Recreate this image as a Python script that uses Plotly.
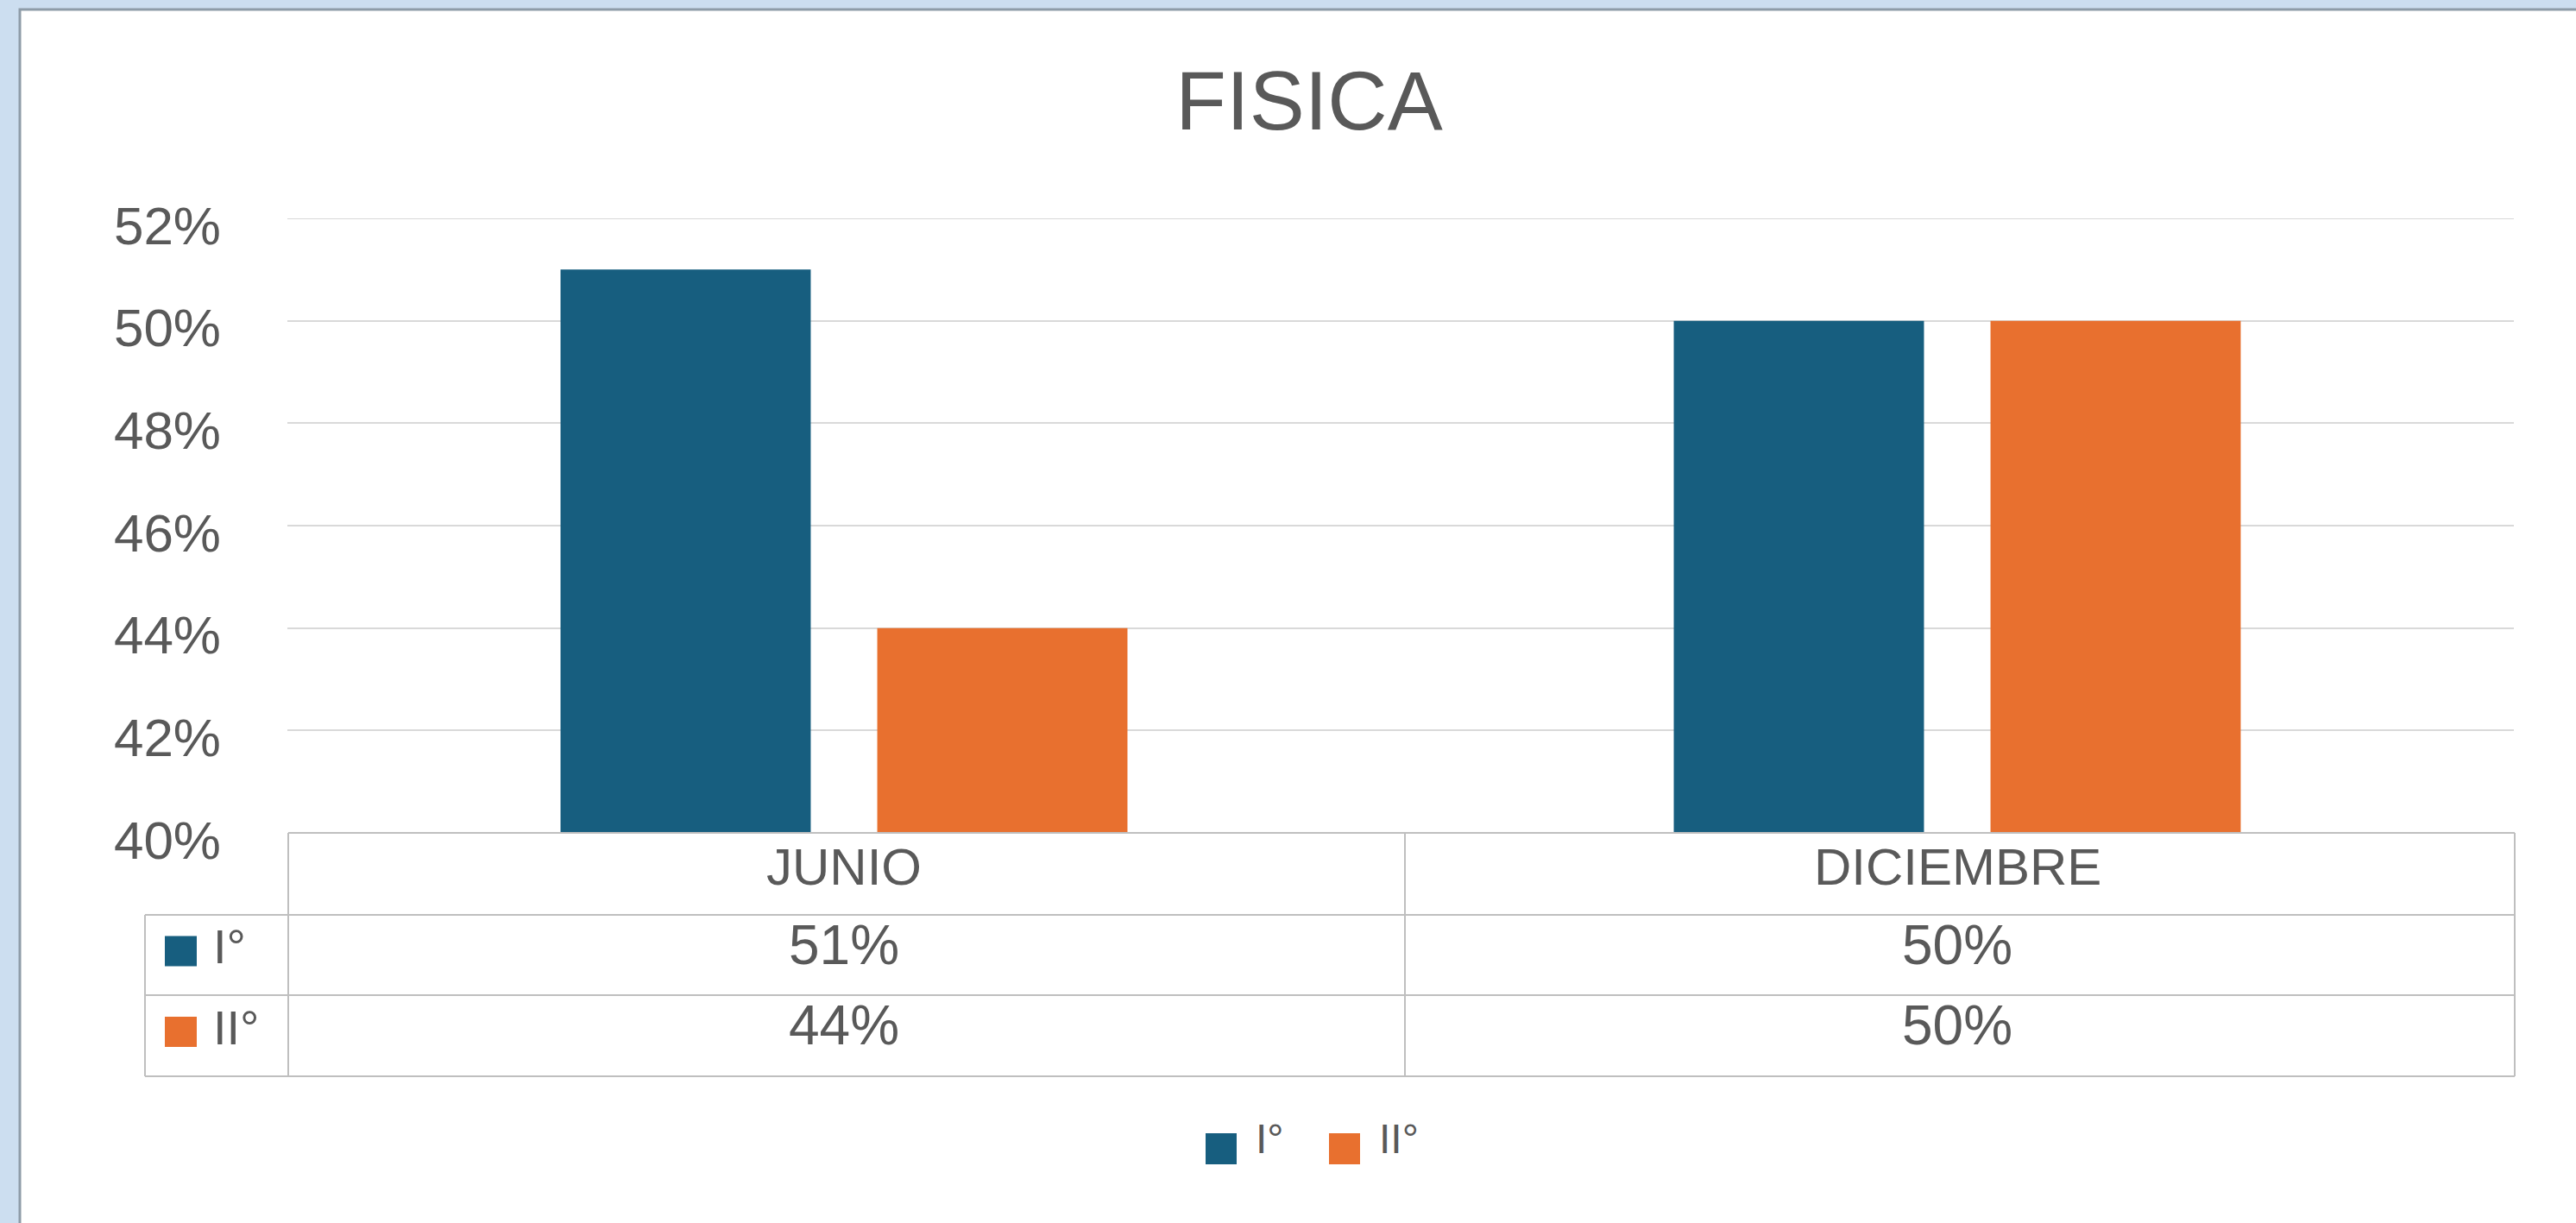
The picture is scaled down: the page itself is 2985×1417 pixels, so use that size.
import plotly.graph_objects as go

# ---- data ----
title_text = "FISICA"
categories = ["JUNIO", "DICIEMBRE"]
series_names = ["I°", "II°"]
values_I = [51, 50]
values_II = [44, 50]
series_values = [values_I, values_II]
y_ticks = [40, 42, 44, 46, 48, 50, 52]
y_tick_labels = [f"{v}%" for v in y_ticks]

colors = ["#175E7F", "#E8702F"]
text_color = "#595959"
grid_color = "#D9D9D9"
table_line = "#BFBFBF"
FONT = "Liberation Sans, Arial, sans-serif"

W, H = 2985, 1417
PL, PR, PT, PB = 333, 2913, 253, 965


def px(x):
    return (x - PL) / (PR - PL)


def py(y):
    return (PB - y) / (PB - PT)


fig = go.Figure()
for name, vals, col in zip(series_names, series_values, colors):
    fig.add_trace(go.Bar(x=categories, y=vals, name=name, marker_color=col,
                         marker_line_width=0, showlegend=False, hoverinfo="skip"))

shapes = []
# white chart area with grey frame over light-blue page
shapes.append(dict(type="rect", xref="paper", yref="paper", layer="below",
                   x0=px(23), x1=px(3000), y0=py(11), y1=py(1430),
                   fillcolor="white", line=dict(color="#8E9CA8", width=3)))
# top gridline (at range edge)
shapes.append(dict(type="line", xref="paper", yref="y", layer="below", x0=0, x1=1,
                   y0=y_ticks[-1], y1=y_ticks[-1], line=dict(color=grid_color, width=2)))


def hline(x0, x1, y):
    shapes.append(dict(type="line", xref="paper", yref="paper", x0=px(x0), x1=px(x1),
                       y0=py(y), y1=py(y), line=dict(color=table_line, width=2)))


def vline(x, y0, y1):
    shapes.append(dict(type="line", xref="paper", yref="paper", x0=px(x), x1=px(x),
                       y0=py(y0), y1=py(y1), line=dict(color=table_line, width=2)))

row_y = [965, 1060, 1153, 1247]
T_LEFT, T_COL, T_DIV, T_RIGHT = 168, 334, 1628, 2914
hline(T_COL, T_RIGHT, row_y[0])
for yy in row_y[1:]:
    hline(T_LEFT, T_RIGHT, yy)
vline(T_COL, row_y[0], row_y[3])
vline(T_DIV, row_y[0], row_y[3])
vline(T_RIGHT, row_y[0], row_y[3])
vline(T_LEFT, row_y[1], row_y[3])

annotations = []
# header row
for cat in categories:
    annotations.append(dict(xref="x", yref="paper", x=cat, y=py(1004),
                            text=cat, showarrow=False, xanchor="center", yanchor="middle",
                            font=dict(size=60, color=text_color, family=FONT)))
# value rows
for i, (name, vals, col) in enumerate(zip(series_names, series_values, colors)):
    yc = (row_y[i + 1] + row_y[i + 2]) / 2
    shapes.append(dict(type="rect", xref="paper", yref="paper",
                       x0=px(191), x1=px(228), y0=py(yc - 22), y1=py(yc + 13),
                       fillcolor=col, line=dict(width=0)))
    annotations.append(dict(xref="paper", yref="paper", x=px(245), y=py(yc - 10),
                            text=name, showarrow=False, xanchor="left", yanchor="middle",
                            font=dict(size=56, color=text_color, family=FONT)))
    for cat, v in zip(categories, vals):
        annotations.append(dict(xref="x", yref="paper", x=cat, y=py(yc - 12),
                                text=f"{v}%", showarrow=False, xanchor="center",
                                yanchor="middle",
                                font=dict(size=64, color=text_color, family=FONT)))

# bottom legend
leg_x = [1397, 1540]
leg_yc = 1331
for lx, name, col in zip(leg_x, series_names, colors):
    shapes.append(dict(type="rect", xref="paper", yref="paper",
                       x0=px(lx), x1=px(lx + 36), y0=py(leg_yc - 18), y1=py(leg_yc + 18),
                       fillcolor=col, line=dict(width=0)))
    annotations.append(dict(xref="paper", yref="paper", x=px(lx + 56), y=py(leg_yc - 12),
                            text=name, showarrow=False, xanchor="left", yanchor="middle",
                            font=dict(size=48, color=text_color, family=FONT)))

fig.update_layout(
    width=W, height=H,
    margin=dict(l=PL, r=W - PR, t=PT, b=H - PB, pad=0),
    paper_bgcolor="#CCDEF0",
    plot_bgcolor="rgba(0,0,0,0)",
    title=dict(text=title_text, x=1517 / W, xref="container", xanchor="center",
               y=1 - 116 / H, yref="container", yanchor="middle",
               font=dict(size=96, color=text_color, family=FONT)),
    barmode="group",
    bargap=0.431,
    bargroupgap=0.21,
    shapes=shapes,
    annotations=annotations,
    showlegend=False,
    hovermode=False,
    font=dict(family=FONT, color=text_color),
)
fig.update_xaxes(showticklabels=False, showgrid=False, showline=False, zeroline=False,
                 ticks="")
fig.update_yaxes(range=[y_ticks[0], y_ticks[-1]], tickvals=y_ticks, ticktext=y_tick_labels,
                 showgrid=True, gridcolor=grid_color, gridwidth=2, zeroline=False,
                 showline=False, ticks="", ticklabelstandoff=76, ticklabelshift=8,
                 tickfont=dict(size=62, color=text_color, family=FONT))

fig.write_html("out.html", config={"displayModeBar": False},
               post_script="document.body.style.margin='0';document.body.style.overflow='hidden';")
